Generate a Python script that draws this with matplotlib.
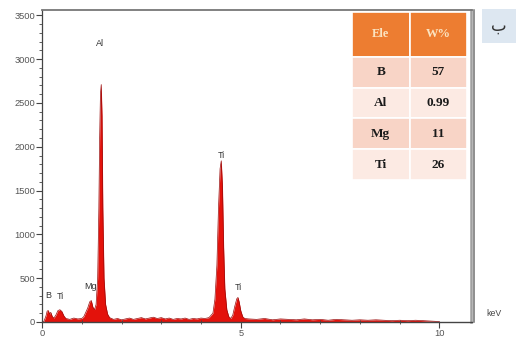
import numpy as np
import matplotlib as mpl
mpl.use("Agg")
import matplotlib.pyplot as plt
from matplotlib.patches import Rectangle
from matplotlib.ticker import MultipleLocator

# EDS spectrum (keV, counts)
energy = [0.00, 0.05, 0.10, 0.13, 0.16, 0.19, 0.22, 0.26, 0.30, 0.35,
          0.40, 0.45, 0.50, 0.55, 0.60, 0.70, 0.80, 0.90, 1.00, 1.05,
          1.10, 1.15, 1.20, 1.24, 1.28, 1.32, 1.36, 1.40, 1.43, 1.45,
          1.47, 1.49, 1.51, 1.53, 1.56, 1.60, 1.65, 1.70, 1.80, 1.90,
          2.00, 2.10, 2.20, 2.30, 2.40, 2.50, 2.60, 2.70, 2.80, 2.90,
          3.00, 3.10, 3.20, 3.30, 3.40, 3.50, 3.60, 3.70, 3.80, 3.90,
          4.00, 4.10, 4.20, 4.30, 4.35, 4.40, 4.44, 4.48, 4.51, 4.54,
          4.57, 4.60, 4.65, 4.70, 4.75, 4.80, 4.85, 4.90, 4.93, 4.96,
          5.00, 5.05, 5.10, 5.20, 5.40, 5.60, 5.80, 6.00, 6.20, 6.40,
          6.60, 6.80, 7.00, 7.20, 7.40, 7.60, 7.80, 8.00, 8.20, 8.40,
          8.60, 8.80, 9.00, 9.20, 9.40, 9.60, 9.80, 10.00]
counts = [0, 10, 70, 125, 130, 90, 110, 60, 45, 80,
          130, 140, 120, 70, 40, 30, 45, 35, 40, 60,
          110, 160, 230, 245, 170, 140, 200, 500, 1300, 2100,
          2600, 2710, 2350, 1300, 500, 200, 90, 50, 30, 40,
          25, 35, 45, 30, 40, 50, 35, 45, 55, 40,
          50, 35, 45, 30, 40, 35, 45, 30, 40, 35,
          45, 40, 50, 100, 260, 650, 1300, 1750, 1840, 1550,
          850, 380, 140, 60, 40, 80, 180, 265, 280, 230,
          130, 60, 40, 35, 30, 40, 25, 35, 30, 25,
          35, 25, 30, 20, 30, 25, 20, 25, 20, 25,
          20, 15, 20, 15, 20, 15, 10, 5]

peak_names = ["B", "Ti", "Mg", "Al", "Ti", "Ti"]
peak_x = [0.15, 0.47, 1.23, 1.46, 4.51, 4.95]
peak_y = [300, 290, 410, 3180, 1900, 390]

elements = ["B", "Al", "Mg", "Ti"]
weight_pct = ["57", "0.99", "11", "26"]

fig = plt.figure(figsize=(5.2, 3.42), dpi=100)
ax = fig.add_axes([0.0808, 0.0585, 0.827, 0.912])

ax.fill_between(energy, counts, color="#E3120B", lw=0)
ax.plot(energy, counts, color="#9A0A0A", lw=0.5)

for name, x, y in zip(peak_names, peak_x, peak_y):
    ax.text(x, y, name, ha="center", va="center", fontsize=6.5,
            color="#333333", family="Liberation Sans")

ax.set_xlim(0, 10.82)
ax.set_ylim(0, 3560)
ax.xaxis.set_major_locator(MultipleLocator(5))
ax.xaxis.set_minor_locator(MultipleLocator(1))
ax.yaxis.set_major_locator(MultipleLocator(500))
ax.yaxis.set_minor_locator(MultipleLocator(100))
ax.tick_params(which="major", length=4, width=0.8, color="#444444",
               labelsize=6.7, labelcolor="#555555", pad=1)
ax.tick_params(which="minor", length=2.5, width=0.6, color="#444444")
ax.tick_params(axis="x", which="minor", direction="inout")
for lab in ax.get_xticklabels() + ax.get_yticklabels():
    lab.set_family("Liberation Sans")

ax.spines["left"].set_color("#444444")
ax.spines["bottom"].set_color("#444444")
ax.spines["left"].set_linewidth(0.9)
ax.spines["bottom"].set_linewidth(1.0)
ax.spines["top"].set_color("#777777")
ax.spines["top"].set_linewidth(1.3)
ax.spines["right"].set_visible(False)
# double grey border on the right
ax.plot([0.997, 0.997], [0, 1.0], transform=ax.transAxes, color="#a0a0a0",
        lw=1.8, clip_on=False)
ax.plot([1.004, 1.004], [0, 1.0], transform=ax.transAxes, color="#707070",
        lw=1.1, clip_on=False)

fig.text(0.936, 0.082, "keV", fontsize=6.3, color="#444444",
         family="Liberation Sans", va="center")

# composition table
tax = fig.add_axes([0.677, 0.474, 0.221, 0.491])
tax.set_xlim(0, 1)
tax.set_ylim(1, 0)
tax.axis("off")
head_h = 0.268
row_h = (1 - head_h) / len(elements)
for c, txt in enumerate(["Ele", "W%"]):
    tax.add_patch(Rectangle((c * 0.5, 0), 0.5, head_h, facecolor="#ED7D31",
                            edgecolor="white", lw=1.2))
    tax.text(c * 0.5 + 0.25, head_h / 2, txt, ha="center", va="center",
             fontsize=9, fontweight="bold", color="#FBE3C0",
             family="Liberation Serif")
for r, (el, w) in enumerate(zip(elements, weight_pct)):
    y0 = head_h + r * row_h
    col = "#F8D4C6" if r % 2 == 0 else "#FCEAE3"
    for c, txt in enumerate([el, w]):
        tax.add_patch(Rectangle((c * 0.5, y0), 0.5, row_h, facecolor=col,
                                edgecolor="white", lw=1.2))
        tax.text(c * 0.5 + 0.25, y0 + row_h / 2, txt, ha="center",
                 va="center", fontsize=9.5, fontweight="bold",
                 color="#1a1a1a", family="Liberation Serif")

# panel letter
fig.patches.append(Rectangle((0.927, 0.874), 0.065, 0.1, facecolor="#DDE7F1",
                             edgecolor="none", transform=fig.transFigure))
fig.text(0.959, 0.924, "ب", ha="center", va="center", fontsize=12,
         color="#333333", family="DejaVu Sans")

fig.savefig("out.png", dpi=100)
